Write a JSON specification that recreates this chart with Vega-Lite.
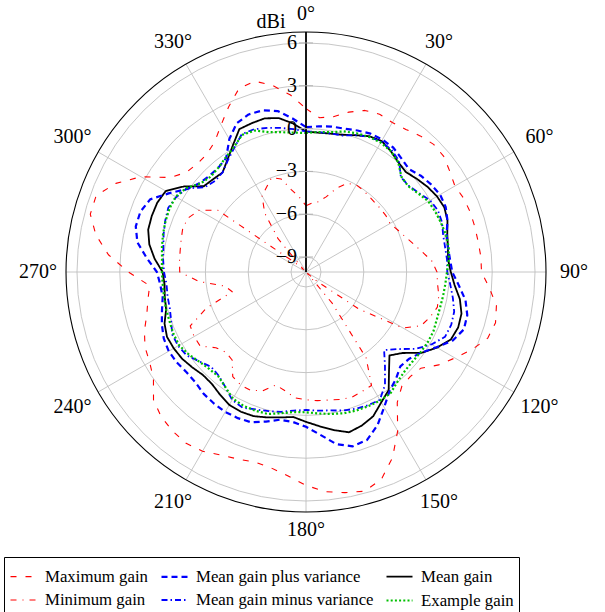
{
"$schema": "https://vega.github.io/schema/vega-lite/v6.json",
"width": 605, "height": 612, "autosize": {"type": "none"}, "padding": 0,
"background": "white",
"config": {"view": {"stroke": null}, "font": "Liberation Serif"},
"datasets": {
"levels": [{"g": -9}, {"g": -6}, {"g": -3}, {"g": 0}, {"g": 3}, {"g": 6}],
"spokes": [{"a": 0}, {"a": 30}, {"a": 60}, {"a": 90}, {"a": 120}, {"a": 150}, {"a": 180}, {"a": 210}, {"a": 240}, {"a": 270}, {"a": 300}, {"a": 330}],
"gain": [
{"s":"Maximum gain","a":0,"g":1.4},{"s":"Maximum gain","a":5,"g":0.8},{"s":"Maximum gain","a":10,"g":1.0},{"s":"Maximum gain","a":15,"g":1.55},{"s":"Maximum gain","a":20,"g":2.0},{"s":"Maximum gain","a":25,"g":2.15},{"s":"Maximum gain","a":30,"g":2.05},{"s":"Maximum gain","a":35,"g":2.15},{"s":"Maximum gain","a":40,"g":2.4},{"s":"Maximum gain","a":45,"g":2.6},
{"s":"Maximum gain","a":50,"g":2.55},{"s":"Maximum gain","a":55,"g":2.25},{"s":"Maximum gain","a":60,"g":2.0},{"s":"Maximum gain","a":65,"g":2.15},{"s":"Maximum gain","a":70,"g":2.2},{"s":"Maximum gain","a":75,"g":2.2},{"s":"Maximum gain","a":80,"g":2.2},{"s":"Maximum gain","a":85,"g":2.25},{"s":"Maximum gain","a":90,"g":2.25},{"s":"Maximum gain","a":95,"g":2.85},
{"s":"Maximum gain","a":100,"g":3.5},{"s":"Maximum gain","a":105,"g":3.7},{"s":"Maximum gain","a":110,"g":3.5},{"s":"Maximum gain","a":115,"g":2.8},{"s":"Maximum gain","a":120,"g":2.0},{"s":"Maximum gain","a":125,"g":1.3},{"s":"Maximum gain","a":130,"g":0.45},{"s":"Maximum gain","a":135,"g":0.3},{"s":"Maximum gain","a":140,"g":0.4},{"s":"Maximum gain","a":145,"g":1.1},
{"s":"Maximum gain","a":150,"g":2.8},{"s":"Maximum gain","a":155,"g":4.3},{"s":"Maximum gain","a":160,"g":5.4},{"s":"Maximum gain","a":165,"g":5.85},{"s":"Maximum gain","a":170,"g":5.65},{"s":"Maximum gain","a":175,"g":5.4},{"s":"Maximum gain","a":180,"g":4.9},{"s":"Maximum gain","a":185,"g":4.3},{"s":"Maximum gain","a":190,"g":3.9},{"s":"Maximum gain","a":195,"g":3.75},
{"s":"Maximum gain","a":200,"g":3.9},{"s":"Maximum gain","a":205,"g":4.1},{"s":"Maximum gain","a":210,"g":4.45},{"s":"Maximum gain","a":215,"g":4.6},{"s":"Maximum gain","a":220,"g":4.5},{"s":"Maximum gain","a":225,"g":4.3},{"s":"Maximum gain","a":230,"g":3.9},{"s":"Maximum gain","a":235,"g":3.0},{"s":"Maximum gain","a":240,"g":2.6},{"s":"Maximum gain","a":245,"g":2.4},
{"s":"Maximum gain","a":250,"g":2.0},{"s":"Maximum gain","a":255,"g":1.5},{"s":"Maximum gain","a":260,"g":1.2},{"s":"Maximum gain","a":265,"g":0.95},{"s":"Maximum gain","a":270,"g":2.4},{"s":"Maximum gain","a":275,"g":3.85},{"s":"Maximum gain","a":280,"g":4.9},{"s":"Maximum gain","a":285,"g":5.6},{"s":"Maximum gain","a":290,"g":5.6},{"s":"Maximum gain","a":295,"g":4.65},
{"s":"Maximum gain","a":300,"g":3.3},{"s":"Maximum gain","a":305,"g":1.5},{"s":"Maximum gain","a":310,"g":0.85},{"s":"Maximum gain","a":315,"g":0.7},{"s":"Maximum gain","a":320,"g":0.75},{"s":"Maximum gain","a":325,"g":1.1},{"s":"Maximum gain","a":330,"g":1.85},{"s":"Maximum gain","a":335,"g":2.75},{"s":"Maximum gain","a":340,"g":3.65},{"s":"Maximum gain","a":345,"g":3.8},
{"s":"Maximum gain","a":350,"g":3.2},{"s":"Maximum gain","a":355,"g":2.4},{"s":"Maximum gain","a":360,"g":1.4},

{"s":"Minimum gain","a":0,"g":-5.4},{"s":"Minimum gain","a":5,"g":-5.2},{"s":"Minimum gain","a":10,"g":-5.05},{"s":"Minimum gain","a":15,"g":-4.6},{"s":"Minimum gain","a":20,"g":-3.8},{"s":"Minimum gain","a":25,"g":-3.2},{"s":"Minimum gain","a":30,"g":-3.0},{"s":"Minimum gain","a":35,"g":-3.05},{"s":"Minimum gain","a":40,"g":-3.15},{"s":"Minimum gain","a":45,"g":-3.2},
{"s":"Minimum gain","a":50,"g":-3.2},{"s":"Minimum gain","a":55,"g":-3.2},{"s":"Minimum gain","a":60,"g":-3.25},{"s":"Minimum gain","a":65,"g":-3.0},{"s":"Minimum gain","a":70,"g":-2.7},{"s":"Minimum gain","a":75,"g":-2.3},{"s":"Minimum gain","a":80,"g":-1.8},{"s":"Minimum gain","a":85,"g":-1.2},{"s":"Minimum gain","a":90,"g":-0.87},{"s":"Minimum gain","a":95,"g":-0.8},
{"s":"Minimum gain","a":100,"g":-0.6},{"s":"Minimum gain","a":105,"g":-0.52},{"s":"Minimum gain","a":110,"g":-0.8},{"s":"Minimum gain","a":115,"g":-1.15},{"s":"Minimum gain","a":120,"g":-2.2},{"s":"Minimum gain","a":125,"g":-5.5},{"s":"Minimum gain","a":130,"g":-9.0},{"s":"Minimum gain","a":135,"g":-9.9},{"s":"Minimum gain","a":140,"g":-7.2},{"s":"Minimum gain","a":145,"g":-2.7},
{"s":"Minimum gain","a":150,"g":-0.87},{"s":"Minimum gain","a":155,"g":-0.8},{"s":"Minimum gain","a":160,"g":-0.7},{"s":"Minimum gain","a":165,"g":-0.8},{"s":"Minimum gain","a":170,"g":-0.94},{"s":"Minimum gain","a":175,"g":-1.0},{"s":"Minimum gain","a":180,"g":-1.1},{"s":"Minimum gain","a":185,"g":-1.2},{"s":"Minimum gain","a":190,"g":-1.6},{"s":"Minimum gain","a":195,"g":-1.85},
{"s":"Minimum gain","a":200,"g":-1.2},{"s":"Minimum gain","a":205,"g":-0.9},{"s":"Minimum gain","a":210,"g":-0.9},{"s":"Minimum gain","a":215,"g":-1.1},{"s":"Minimum gain","a":220,"g":-2.0},{"s":"Minimum gain","a":225,"g":-2.1},{"s":"Minimum gain","a":230,"g":-1.8},{"s":"Minimum gain","a":235,"g":-1.0},{"s":"Minimum gain","a":240,"g":-1.0},{"s":"Minimum gain","a":245,"g":-1.1},
{"s":"Minimum gain","a":250,"g":-2.6},{"s":"Minimum gain","a":255,"g":-4.7},{"s":"Minimum gain","a":260,"g":-4.3},{"s":"Minimum gain","a":265,"g":-2.5},{"s":"Minimum gain","a":270,"g":-1.2},{"s":"Minimum gain","a":275,"g":-1.15},{"s":"Minimum gain","a":280,"g":-1.1},{"s":"Minimum gain","a":285,"g":-1.0},{"s":"Minimum gain","a":290,"g":-0.87},{"s":"Minimum gain","a":295,"g":-1.0},
{"s":"Minimum gain","a":300,"g":-1.4},{"s":"Minimum gain","a":305,"g":-2.5},{"s":"Minimum gain","a":310,"g":-9.0},{"s":"Minimum gain","a":315,"g":-9.8},{"s":"Minimum gain","a":320,"g":-7.0},{"s":"Minimum gain","a":325,"g":-5.0},{"s":"Minimum gain","a":330,"g":-3.9},{"s":"Minimum gain","a":335,"g":-3.5},{"s":"Minimum gain","a":340,"g":-3.0},{"s":"Minimum gain","a":345,"g":-3.3},
{"s":"Minimum gain","a":350,"g":-4.2},{"s":"Minimum gain","a":355,"g":-4.8},{"s":"Minimum gain","a":360,"g":-5.4},

{"s":"Mean gain","a":0,"g":-0.2},{"s":"Mean gain","a":5,"g":-0.25},{"s":"Mean gain","a":10,"g":-0.2},{"s":"Mean gain","a":15,"g":-0.1},{"s":"Mean gain","a":20,"g":0.15},{"s":"Mean gain","a":25,"g":0.45},{"s":"Mean gain","a":30,"g":0.55},{"s":"Mean gain","a":35,"g":0.3},{"s":"Mean gain","a":40,"g":0.0},{"s":"Mean gain","a":45,"g":-0.15},
{"s":"Mean gain","a":50,"g":0.1},{"s":"Mean gain","a":55,"g":0.35},{"s":"Mean gain","a":60,"g":0.55},{"s":"Mean gain","a":65,"g":0.65},{"s":"Mean gain","a":70,"g":0.5},{"s":"Mean gain","a":75,"g":0.2},{"s":"Mean gain","a":80,"g":0.05},{"s":"Mean gain","a":85,"g":-0.06},{"s":"Mean gain","a":90,"g":0.1},{"s":"Mean gain","a":95,"g":0.4},
{"s":"Mean gain","a":100,"g":0.9},{"s":"Mean gain","a":105,"g":1.23},{"s":"Mean gain","a":110,"g":1.3},{"s":"Mean gain","a":115,"g":1.15},{"s":"Mean gain","a":120,"g":0.55},{"s":"Mean gain","a":125,"g":-0.17},{"s":"Mean gain","a":130,"g":-1.22},{"s":"Mean gain","a":135,"g":-1.78},{"s":"Mean gain","a":140,"g":-1.0},{"s":"Mean gain","a":145,"g":0.05},
{"s":"Mean gain","a":150,"g":0.5},{"s":"Mean gain","a":155,"g":1.1},{"s":"Mean gain","a":160,"g":1.4},{"s":"Mean gain","a":165,"g":1.58},{"s":"Mean gain","a":170,"g":1.2},{"s":"Mean gain","a":175,"g":0.8},{"s":"Mean gain","a":180,"g":0.45},{"s":"Mean gain","a":185,"g":0.15},{"s":"Mean gain","a":190,"g":0.3},{"s":"Mean gain","a":195,"g":0.5},
{"s":"Mean gain","a":200,"g":0.7},{"s":"Mean gain","a":205,"g":0.75},{"s":"Mean gain","a":210,"g":0.7},{"s":"Mean gain","a":215,"g":0.45},{"s":"Mean gain","a":220,"g":0.2},{"s":"Mean gain","a":225,"g":0.16},{"s":"Mean gain","a":230,"g":0.35},{"s":"Mean gain","a":235,"g":0.55},{"s":"Mean gain","a":240,"g":0.65},{"s":"Mean gain","a":245,"g":0.7},
{"s":"Mean gain","a":250,"g":0.5},{"s":"Mean gain","a":255,"g":0.1},{"s":"Mean gain","a":260,"g":0.0},{"s":"Mean gain","a":265,"g":-0.1},{"s":"Mean gain","a":270,"g":0.0},{"s":"Mean gain","a":275,"g":0.6},{"s":"Mean gain","a":280,"g":1.1},{"s":"Mean gain","a":285,"g":1.4},{"s":"Mean gain","a":290,"g":1.45},{"s":"Mean gain","a":295,"g":1.45},
{"s":"Mean gain","a":300,"g":1.3},{"s":"Mean gain","a":305,"g":0.4},{"s":"Mean gain","a":310,"g":-0.7},{"s":"Mean gain","a":315,"g":-0.85},{"s":"Mean gain","a":320,"g":-0.95},{"s":"Mean gain","a":325,"g":-0.45},{"s":"Mean gain","a":330,"g":0.2},{"s":"Mean gain","a":335,"g":1.0},{"s":"Mean gain","a":340,"g":1.05},{"s":"Mean gain","a":345,"g":1.1},
{"s":"Mean gain","a":350,"g":0.9},{"s":"Mean gain","a":355,"g":0.4},{"s":"Mean gain","a":360,"g":-0.2},

{"s":"Mean gain plus variance","a":0,"g":0.1},{"s":"Mean gain plus variance","a":5,"g":0.2},{"s":"Mean gain plus variance","a":10,"g":0.3},{"s":"Mean gain plus variance","a":15,"g":0.35},{"s":"Mean gain plus variance","a":20,"g":0.5},{"s":"Mean gain plus variance","a":25,"g":0.65},{"s":"Mean gain plus variance","a":30,"g":0.66},{"s":"Mean gain plus variance","a":35,"g":0.6},{"s":"Mean gain plus variance","a":40,"g":0.35},{"s":"Mean gain plus variance","a":45,"g":0.15},
{"s":"Mean gain plus variance","a":50,"g":0.45},{"s":"Mean gain plus variance","a":55,"g":0.65},{"s":"Mean gain plus variance","a":60,"g":0.8},{"s":"Mean gain plus variance","a":65,"g":0.75},{"s":"Mean gain plus variance","a":70,"g":0.5},{"s":"Mean gain plus variance","a":75,"g":0.15},{"s":"Mean gain plus variance","a":80,"g":0.05},{"s":"Mean gain plus variance","a":85,"g":0.08},{"s":"Mean gain plus variance","a":90,"g":0.2},{"s":"Mean gain plus variance","a":95,"g":0.7},
{"s":"Mean gain plus variance","a":100,"g":1.3},{"s":"Mean gain plus variance","a":105,"g":1.65},{"s":"Mean gain plus variance","a":110,"g":1.72},{"s":"Mean gain plus variance","a":115,"g":1.3},{"s":"Mean gain plus variance","a":120,"g":0.5},{"s":"Mean gain plus variance","a":125,"g":-0.2},{"s":"Mean gain plus variance","a":130,"g":-0.6},{"s":"Mean gain plus variance","a":135,"g":-0.7},{"s":"Mean gain plus variance","a":140,"g":-0.25},{"s":"Mean gain plus variance","a":145,"g":0.15},
{"s":"Mean gain plus variance","a":150,"g":0.9},{"s":"Mean gain plus variance","a":155,"g":1.8},{"s":"Mean gain plus variance","a":160,"g":2.47},{"s":"Mean gain plus variance","a":165,"g":2.6},{"s":"Mean gain plus variance","a":170,"g":2.2},{"s":"Mean gain plus variance","a":175,"g":1.4},{"s":"Mean gain plus variance","a":180,"g":0.8},{"s":"Mean gain plus variance","a":185,"g":0.5},{"s":"Mean gain plus variance","a":190,"g":0.46},{"s":"Mean gain plus variance","a":195,"g":0.8},
{"s":"Mean gain plus variance","a":200,"g":1.16},{"s":"Mean gain plus variance","a":205,"g":1.25},{"s":"Mean gain plus variance","a":210,"g":1.27},{"s":"Mean gain plus variance","a":215,"g":1.2},{"s":"Mean gain plus variance","a":220,"g":1.1},{"s":"Mean gain plus variance","a":225,"g":0.9},{"s":"Mean gain plus variance","a":230,"g":0.88},{"s":"Mean gain plus variance","a":235,"g":1.0},{"s":"Mean gain plus variance","a":240,"g":1.06},{"s":"Mean gain plus variance","a":245,"g":0.95},
{"s":"Mean gain plus variance","a":250,"g":0.7},{"s":"Mean gain plus variance","a":255,"g":0.4},{"s":"Mean gain plus variance","a":260,"g":0.15},{"s":"Mean gain plus variance","a":265,"g":0.2},{"s":"Mean gain plus variance","a":270,"g":0.4},{"s":"Mean gain plus variance","a":275,"g":1.15},{"s":"Mean gain plus variance","a":280,"g":1.95},{"s":"Mean gain plus variance","a":285,"g":2.3},{"s":"Mean gain plus variance","a":290,"g":2.3},{"s":"Mean gain plus variance","a":295,"g":2.0},
{"s":"Mean gain plus variance","a":300,"g":1.0},{"s":"Mean gain plus variance","a":305,"g":0.1},{"s":"Mean gain plus variance","a":310,"g":-0.35},{"s":"Mean gain plus variance","a":315,"g":-0.5},{"s":"Mean gain plus variance","a":320,"g":-0.5},{"s":"Mean gain plus variance","a":325,"g":-0.3},{"s":"Mean gain plus variance","a":330,"g":0.7},{"s":"Mean gain plus variance","a":335,"g":1.45},{"s":"Mean gain plus variance","a":340,"g":1.7},{"s":"Mean gain plus variance","a":345,"g":1.68},
{"s":"Mean gain plus variance","a":350,"g":1.4},{"s":"Mean gain plus variance","a":355,"g":0.75},{"s":"Mean gain plus variance","a":360,"g":0.1},

{"s":"Mean gain minus variance","a":0,"g":-0.2},{"s":"Mean gain minus variance","a":5,"g":-0.2},{"s":"Mean gain minus variance","a":10,"g":-0.2},{"s":"Mean gain minus variance","a":15,"g":-0.15},{"s":"Mean gain minus variance","a":20,"g":0.15},{"s":"Mean gain minus variance","a":25,"g":0.4},{"s":"Mean gain minus variance","a":30,"g":0.5},{"s":"Mean gain minus variance","a":35,"g":0.4},{"s":"Mean gain minus variance","a":40,"g":0.1},{"s":"Mean gain minus variance","a":45,"g":-0.65},
{"s":"Mean gain minus variance","a":50,"g":-0.65},{"s":"Mean gain minus variance","a":55,"g":-0.4},{"s":"Mean gain minus variance","a":60,"g":0.0},{"s":"Mean gain minus variance","a":65,"g":0.15},{"s":"Mean gain minus variance","a":70,"g":0.1},{"s":"Mean gain minus variance","a":75,"g":-0.1},{"s":"Mean gain minus variance","a":80,"g":-0.15},{"s":"Mean gain minus variance","a":85,"g":-0.13},{"s":"Mean gain minus variance","a":90,"g":-0.15},{"s":"Mean gain minus variance","a":95,"g":0.1},
{"s":"Mean gain minus variance","a":100,"g":0.4},{"s":"Mean gain minus variance","a":105,"g":0.7},{"s":"Mean gain minus variance","a":110,"g":0.78},{"s":"Mean gain minus variance","a":115,"g":0.7},{"s":"Mean gain minus variance","a":120,"g":0.1},{"s":"Mean gain minus variance","a":125,"g":-0.66},{"s":"Mean gain minus variance","a":130,"g":-1.65},{"s":"Mean gain minus variance","a":135,"g":-2.31},{"s":"Mean gain minus variance","a":140,"g":-1.44},{"s":"Mean gain minus variance","a":145,"g":-0.4},
{"s":"Mean gain minus variance","a":150,"g":0.3},{"s":"Mean gain minus variance","a":155,"g":0.25},{"s":"Mean gain minus variance","a":160,"g":0.15},{"s":"Mean gain minus variance","a":165,"g":0.0},{"s":"Mean gain minus variance","a":170,"g":-0.2},{"s":"Mean gain minus variance","a":175,"g":-0.3},{"s":"Mean gain minus variance","a":180,"g":-0.38},{"s":"Mean gain minus variance","a":185,"g":-0.3},{"s":"Mean gain minus variance","a":190,"g":-0.1},{"s":"Mean gain minus variance","a":195,"g":0.05},
{"s":"Mean gain minus variance","a":200,"g":0.2},{"s":"Mean gain minus variance","a":205,"g":0.45},{"s":"Mean gain minus variance","a":210,"g":0.3},{"s":"Mean gain minus variance","a":215,"g":-0.2},{"s":"Mean gain minus variance","a":220,"g":-0.55},{"s":"Mean gain minus variance","a":225,"g":-0.65},{"s":"Mean gain minus variance","a":230,"g":-0.3},{"s":"Mean gain minus variance","a":235,"g":0.15},{"s":"Mean gain minus variance","a":240,"g":0.3},{"s":"Mean gain minus variance","a":245,"g":0.3},
{"s":"Mean gain minus variance","a":250,"g":0.0},{"s":"Mean gain minus variance","a":255,"g":-0.17},{"s":"Mean gain minus variance","a":260,"g":-0.2},{"s":"Mean gain minus variance","a":265,"g":-0.24},{"s":"Mean gain minus variance","a":270,"g":-0.1},{"s":"Mean gain minus variance","a":275,"g":0.0},{"s":"Mean gain minus variance","a":280,"g":0.1},{"s":"Mean gain minus variance","a":285,"g":0.28},{"s":"Mean gain minus variance","a":290,"g":0.45},{"s":"Mean gain minus variance","a":295,"g":0.6},
{"s":"Mean gain minus variance","a":300,"g":0.45},{"s":"Mean gain minus variance","a":305,"g":0.15},{"s":"Mean gain minus variance","a":310,"g":-0.8},{"s":"Mean gain minus variance","a":315,"g":-1.03},{"s":"Mean gain minus variance","a":320,"g":-0.95},{"s":"Mean gain minus variance","a":325,"g":-0.5},{"s":"Mean gain minus variance","a":330,"g":0.0},{"s":"Mean gain minus variance","a":335,"g":0.6},{"s":"Mean gain minus variance","a":340,"g":0.6},{"s":"Mean gain minus variance","a":345,"g":0.4},
{"s":"Mean gain minus variance","a":350,"g":0.2},{"s":"Mean gain minus variance","a":355,"g":0.0},{"s":"Mean gain minus variance","a":360,"g":-0.2},

{"s":"Example gain","a":0,"g":-0.3},{"s":"Example gain","a":5,"g":-0.2},{"s":"Example gain","a":10,"g":-0.1},{"s":"Example gain","a":15,"g":0.15},{"s":"Example gain","a":20,"g":0.3},{"s":"Example gain","a":25,"g":0.4},{"s":"Example gain","a":30,"g":0.42},{"s":"Example gain","a":35,"g":0.3},{"s":"Example gain","a":40,"g":0.0},{"s":"Example gain","a":45,"g":-0.6},
{"s":"Example gain","a":50,"g":-0.7},{"s":"Example gain","a":55,"g":-0.45},{"s":"Example gain","a":60,"g":-0.15},{"s":"Example gain","a":65,"g":-0.05},{"s":"Example gain","a":70,"g":0.02},{"s":"Example gain","a":75,"g":0.1},{"s":"Example gain","a":80,"g":0.1},{"s":"Example gain","a":85,"g":0.0},{"s":"Example gain","a":90,"g":-0.17},{"s":"Example gain","a":95,"g":-0.25},
{"s":"Example gain","a":100,"g":-0.3},{"s":"Example gain","a":105,"g":-0.33},{"s":"Example gain","a":110,"g":-0.3},{"s":"Example gain","a":115,"g":-0.2},{"s":"Example gain","a":120,"g":-0.2},{"s":"Example gain","a":125,"g":-0.25},{"s":"Example gain","a":130,"g":-0.3},{"s":"Example gain","a":135,"g":-0.25},{"s":"Example gain","a":140,"g":-0.05},{"s":"Example gain","a":145,"g":0.3},
{"s":"Example gain","a":150,"g":0.35},{"s":"Example gain","a":155,"g":0.32},{"s":"Example gain","a":160,"g":0.28},{"s":"Example gain","a":165,"g":0.2},{"s":"Example gain","a":170,"g":0.05},{"s":"Example gain","a":175,"g":-0.1},{"s":"Example gain","a":180,"g":-0.22},{"s":"Example gain","a":185,"g":-0.2},{"s":"Example gain","a":190,"g":0.0},{"s":"Example gain","a":195,"g":0.25},
{"s":"Example gain","a":200,"g":0.3},{"s":"Example gain","a":205,"g":0.3},{"s":"Example gain","a":210,"g":0.2},{"s":"Example gain","a":215,"g":-0.2},{"s":"Example gain","a":220,"g":-0.5},{"s":"Example gain","a":225,"g":-0.45},{"s":"Example gain","a":230,"g":-0.28},{"s":"Example gain","a":235,"g":0.0},{"s":"Example gain","a":240,"g":0.22},{"s":"Example gain","a":245,"g":0.2},
{"s":"Example gain","a":250,"g":0.12},{"s":"Example gain","a":255,"g":0.1},{"s":"Example gain","a":260,"g":0.05},{"s":"Example gain","a":265,"g":0.03},{"s":"Example gain","a":270,"g":0.05},{"s":"Example gain","a":275,"g":0.08},{"s":"Example gain","a":280,"g":0.2},{"s":"Example gain","a":285,"g":0.32},{"s":"Example gain","a":290,"g":0.42},{"s":"Example gain","a":295,"g":0.5},
{"s":"Example gain","a":300,"g":0.5},{"s":"Example gain","a":305,"g":0.2},{"s":"Example gain","a":310,"g":-0.4},{"s":"Example gain","a":315,"g":-0.6},{"s":"Example gain","a":320,"g":-0.5},{"s":"Example gain","a":325,"g":-0.25},{"s":"Example gain","a":330,"g":0.05},{"s":"Example gain","a":335,"g":0.55},{"s":"Example gain","a":340,"g":0.5},{"s":"Example gain","a":345,"g":0.1},
{"s":"Example gain","a":350,"g":-0.1},{"s":"Example gain","a":355,"g":-0.25},{"s":"Example gain","a":360,"g":-0.3}
]
},
"layer": [
{
"data": {"name": "levels"},
"transform": [{"calculate": "datum.g + 10.05", "as": "rho"}, {"calculate": "0", "as": "cx"}],
"mark": {"type": "point", "shape": "circle", "filled": false, "stroke": "#c0c0c0", "strokeWidth": 0.9, "opacity": 1},
"encoding": {
"x": {"field": "cx", "type": "quantitative", "scale": {"domain": [-21.444, 20.953], "nice": false, "zero": false}, "axis": null},
"y": {"field": "cx", "type": "quantitative", "scale": {"domain": [-23.826, 19.061], "nice": false, "zero": false}, "axis": null},
"size": {"field": "rho", "type": "quantitative", "legend": null, "scale": {"type": "pow", "exponent": 2, "domain": [0, 16.82], "range": [0, 230400], "zero": true, "nice": false}}
}
},
{
"data": {"name": "spokes"},
"transform": [
{"calculate": "0", "as": "cx"},
{"calculate": "16.82*sin(datum.a*PI/180)", "as": "ex"},
{"calculate": "16.82*cos(datum.a*PI/180)", "as": "ey"}
],
"mark": {"type": "rule", "stroke": "#c0c0c0", "strokeWidth": 0.9},
"encoding": {
"x": {"field": "cx", "type": "quantitative", "scale": {"domain": [-21.444, 20.953], "nice": false, "zero": false}, "axis": null},
"y": {"field": "cx", "type": "quantitative", "scale": {"domain": [-23.826, 19.061], "nice": false, "zero": false}, "axis": null},
"x2": {"field": "ex"},
"y2": {"field": "ey"}
}
},
{
"data": {"values": [{"rho": 16.82}]},
"transform": [{"calculate": "0", "as": "cx"}],
"mark": {"type": "point", "shape": "circle", "filled": false, "stroke": "black", "strokeWidth": 1.1, "opacity": 1},
"encoding": {
"x": {"field": "cx", "type": "quantitative", "scale": {"domain": [-21.444, 20.953], "nice": false, "zero": false}, "axis": null},
"y": {"field": "cx", "type": "quantitative", "scale": {"domain": [-23.826, 19.061], "nice": false, "zero": false}, "axis": null},
"size": {"field": "rho", "type": "quantitative", "legend": null, "scale": {"type": "pow", "exponent": 2, "domain": [0, 16.82], "range": [0, 230400], "zero": true, "nice": false}}
}
},
{
"data": {"name": "gain"},
"transform": [
{"calculate": "(datum.g+10.05)*sin(datum.a*PI/180)", "as": "x"},
{"calculate": "(datum.g+10.05)*cos(datum.a*PI/180)", "as": "y"}
],
"mark": {"type": "line", "strokeCap": "butt", "strokeJoin": "round"},
"encoding": {
"x": {"field": "x", "type": "quantitative", "scale": {"domain": [-21.444, 20.953], "nice": false, "zero": false}, "axis": null},
"y": {"field": "y", "type": "quantitative", "scale": {"domain": [-23.826, 19.061], "nice": false, "zero": false}, "axis": null},
"order": {"field": "a", "type": "quantitative"},
"color": {
"field": "s", "type": "nominal",
"scale": {"domain": ["Maximum gain", "Minimum gain", "Mean gain plus variance", "Mean gain minus variance", "Mean gain", "Example gain"],
"range": ["#ff0000", "#ff0000", "#0000ff", "#0000ff", "#000000", "#00c000"]},
"legend": {"title": null, "orient": "none", "legendX": 4, "legendY": 557, "columns": 3, "symbolType": "stroke", "symbolSize": 676,
"labelFont": "Liberation Serif", "labelFontSize": 16.8, "labelColor": "black", "strokeColor": "black", "padding": 5,
"rowPadding": -3, "columnPadding": 8, "labelOffset": 7, "labelLimit": 400}
},
"strokeDash": {
"field": "s", "type": "nominal",
"scale": {"type": "ordinal", "domain": ["Maximum gain", "Minimum gain", "Mean gain plus variance", "Mean gain minus variance", "Mean gain", "Example gain"],
"range": [[6, 9], [6, 6, 1, 6], [6, 4], [6, 3, 1.5, 3], [1, 0], [2, 2.2]]}
},
"strokeWidth": {
"field": "s", "type": "nominal",
"scale": {"type": "ordinal", "domain": ["Maximum gain", "Minimum gain", "Mean gain plus variance", "Mean gain minus variance", "Mean gain", "Example gain"],
"range": [1.1, 1.1, 2.2, 1.8, 1.8, 2.2]}
}
}
},
{
"data": {"values": [{"r0": 0, "r1": 16.82}]},
"mark": {"type": "rule", "stroke": "black", "strokeWidth": 1.8},
"encoding": {
"x": {"field": "r0", "type": "quantitative", "scale": {"domain": [-21.444, 20.953], "nice": false, "zero": false}, "axis": null},
"y": {"field": "r0", "type": "quantitative", "scale": {"domain": [-23.826, 19.061], "nice": false, "zero": false}, "axis": null},
"y2": {"field": "r1"}
}
},
{
"data": {"name": "levels"},
"transform": [
{"calculate": "datum.g + 10.05", "as": "rho"},
{"calculate": "0", "as": "cx"}
],
"mark": {"type": "tick", "orient": "horizontal", "size": 14, "thickness": 1, "color": "#b0b0b0", "opacity": 1},
"encoding": {
"x": {"field": "cx", "type": "quantitative", "scale": {"domain": [-21.444, 20.953], "nice": false, "zero": false}, "axis": null},
"y": {"field": "rho", "type": "quantitative", "scale": {"domain": [-23.826, 19.061], "nice": false, "zero": false}, "axis": null}
}
},
{
"data": {"name": "levels"},
"transform": [
{"calculate": "datum.g + 10.05", "as": "rho"},
{"calculate": "0", "as": "cx"},
{"calculate": "datum.g < 0 ? '\u2212' + (-datum.g) : '' + datum.g", "as": "lab"}
],
"mark": {"type": "text", "align": "right", "baseline": "middle", "dx": -9, "fontSize": 20, "font": "Liberation Serif", "color": "black"},
"encoding": {
"x": {"field": "cx", "type": "quantitative", "scale": {"domain": [-21.444, 20.953], "nice": false, "zero": false}, "axis": null},
"y": {"field": "rho", "type": "quantitative", "scale": {"domain": [-23.826, 19.061], "nice": false, "zero": false}, "axis": null},
"text": {"field": "lab"}
}
},
{
"data": {"name": "spokes"},
"transform": [
{"calculate": "(250 + 18*abs(sin(datum.a*PI/180)) + 8*abs(cos(datum.a*PI/180)))/14.27", "as": "lr"},
{"calculate": "datum.lr*sin(datum.a*PI/180)", "as": "lx"},
{"calculate": "datum.lr*cos(datum.a*PI/180)", "as": "ly"},
{"calculate": "datum.a + '\u00b0'", "as": "lab"}
],
"mark": {"type": "text", "align": "center", "baseline": "middle", "fontSize": 20, "font": "Liberation Serif", "color": "black"},
"encoding": {
"x": {"field": "lx", "type": "quantitative", "scale": {"domain": [-21.444, 20.953], "nice": false, "zero": false}, "axis": null},
"y": {"field": "ly", "type": "quantitative", "scale": {"domain": [-23.826, 19.061], "nice": false, "zero": false}, "axis": null},
"text": {"field": "lab"}
}
},
{
"data": {"values": [{"lab": "dBi", "cx": 0, "cy": 16.82}]},
"mark": {"type": "text", "align": "center", "baseline": "middle", "dx": -35, "dy": -10, "fontSize": 20, "font": "Liberation Serif", "color": "black"},
"encoding": {
"x": {"field": "cx", "type": "quantitative", "scale": {"domain": [-21.444, 20.953], "nice": false, "zero": false}, "axis": null},
"y": {"field": "cy", "type": "quantitative", "scale": {"domain": [-23.826, 19.061], "nice": false, "zero": false}, "axis": null},
"text": {"field": "lab"}
}
}
]
}
